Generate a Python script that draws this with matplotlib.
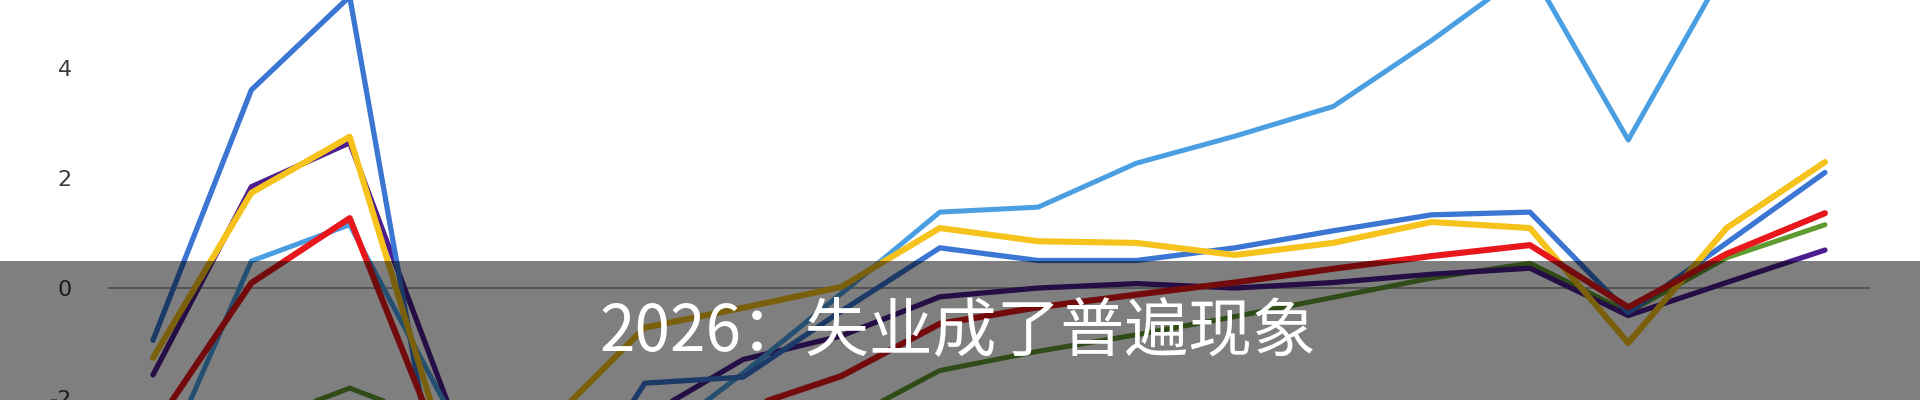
import numpy as np
import matplotlib.pyplot as plt
from matplotlib.patches import Rectangle

plt.rcParams['font.family'] = ['Noto Sans CJK SC', 'DejaVu Sans']

# 18 puntos por serie (eje x sin etiquetas en la imagen)
periodos = list(range(18))

azul_oscuro = [-0.95, 3.6, 5.3, -4.8, -4.5, -1.73, -1.62, -0.42, 0.73, 0.5, 0.5, 0.73, 1.04, 1.33, 1.38, -0.45, 0.82, 2.1]
azul_claro = [-3.6, 0.49, 1.15, -2.2, -3.0, -2.9, -1.55, -0.1, 1.38, 1.47, 2.27, 2.76, 3.3, 4.5, 5.8, 2.69, 5.85, 6.2]
amarillo = [-1.27, 1.73, 2.75, -3.1, -2.5, -0.72, -0.36, 0.02, 1.09, 0.85, 0.82, 0.6, 0.82, 1.2, 1.09, -1.0, 1.09, 2.29]
morado = [-1.58, 1.84, 2.64, -2.1, -2.6, -2.35, -1.3, -0.87, -0.16, 0.0, 0.08, 0.0, 0.1, 0.25, 0.36, -0.5, 0.1, 0.69]
rojo = [-2.56, 0.09, 1.27, -3.2, -3.0, -2.5, -2.2, -1.6, -0.65, -0.35, -0.12, 0.1, 0.35, 0.58, 0.78, -0.35, 0.62, 1.36]
verde = [-2.8, -2.5, -1.82, -2.5, -3.0, -2.8, -2.6, -2.45, -1.5, -1.15, -0.85, -0.52, -0.17, 0.18, 0.45, -0.44, 0.55, 1.15]

ticks_y = [-2, 0, 2, 4]
titulo = "2026：失业成了普遍现象"

fig = plt.figure(figsize=(19.2, 4), dpi=100)
ax = fig.add_axes([108 / 1920, 0, (1870 - 108) / 1920, 1])

ax.axhline(0, color='#9a9a9a', lw=1.2, zorder=1)

ax.plot(periodos, verde, color='#5f9a2e', lw=3.6, solid_capstyle='round', zorder=2)
ax.plot(periodos, morado, color='#4b1d8e', lw=3.8, solid_capstyle='round', zorder=3)
ax.plot(periodos, azul_claro, color='#4a9fe3', lw=3.6, solid_capstyle='round', zorder=4)
ax.plot(periodos, azul_oscuro, color='#3a76d2', lw=3.8, solid_capstyle='round', zorder=5)
ax.plot(periodos, amarillo, color='#f6c21c', lw=4.4, solid_capstyle='round', zorder=6)
ax.plot(periodos, rojo, color='#e8171c', lw=4.4, solid_capstyle='round', zorder=7)

ax.set_xlim(-0.4575, 17.458)
ax.set_ylim(-2.036, 5.236)
ax.set_xticks([])
ax.set_yticks(ticks_y)
ax.set_yticklabels([str(t) for t in ticks_y], fontsize=16, color='#3a3a3a', family='DejaVu Sans')
ax.tick_params(axis='y', length=0, pad=26)
for s in ax.spines.values():
    s.set_visible(False)
ax.patch.set_alpha(0)

# banda oscura con el titulo
banda = Rectangle((0, 0), 1, 139 / 400, transform=fig.transFigure,
                  facecolor='black', alpha=0.5, zorder=10)
fig.patches.append(banda)
fig.text(0.499, 1 - 332 / 400, titulo, color='white', fontsize=46,
         ha='center', va='center', zorder=11)

fig.savefig('out.png', dpi=100, facecolor='white')
